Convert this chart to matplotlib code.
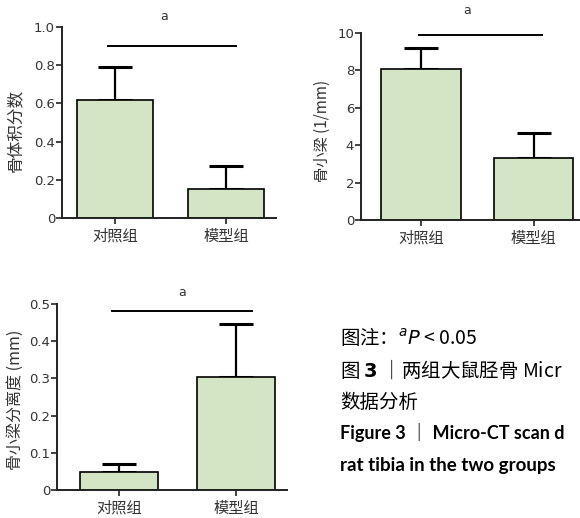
import numpy as np
import matplotlib.pyplot as plt

plt.rcParams['font.family'] = ['DejaVu Sans', 'Noto Sans CJK SC']

groups = ["对照组", "模型组"]

# 骨体积分数
bv_mean = [0.62, 0.15]
bv_err = [0.17, 0.12]
# 骨小梁 (1/mm)
tb_mean = [8.1, 3.3]
tb_err = [1.1, 1.35]
# 骨小梁分离度 (mm)
sp_mean = [0.048, 0.305]
sp_err = [0.022, 0.14]

bar_color = "#d3e5c5"
txt_color = "#333333"

W, H = 580, 518
fig = plt.figure(figsize=(W / 100, H / 100), dpi=100)


def panel(px, ylim, yticks, yticklabels, mean, err, width, xlim, sig, a_pos):
    # px = (left, right, top, bottom) in pixels
    l, r, t, b = px
    ax = fig.add_axes([l / W, 1 - b / H, (r - l) / W, (b - t) / H])
    x = np.arange(len(groups))
    ax.bar(x, mean, width=width, color=bar_color, edgecolor="black", linewidth=1.2, zorder=2)
    ax.errorbar(x, mean, yerr=[np.zeros(len(mean)), err], fmt="none", ecolor="black",
                elinewidth=1.6, capsize=12.5, capthick=2.2, zorder=1)
    ax.set_xlim(*xlim)
    ax.set_ylim(*ylim)
    ax.set_yticks(yticks)
    ax.set_yticklabels(yticklabels)
    ax.set_xticks(x)
    ax.set_xticklabels(groups, family=['Noto Sans CJK SC'])
    for s in ["top", "right"]:
        ax.spines[s].set_visible(False)
    for s in ["left", "bottom"]:
        ax.spines[s].set_linewidth(1.4)
        ax.spines[s].set_color("#222222")
    ax.tick_params(axis="both", length=4, width=1.2, colors="#222222", labelcolor=txt_color,
                   labelsize=9.5)
    ax.tick_params(axis="x", pad=3, labelsize=11)
    ax.tick_params(axis="y", pad=1)
    ax.plot(sig[:2], [sig[2], sig[2]], color="black", lw=1.4, clip_on=False)
    ax.text(a_pos[0], a_pos[1], "a", ha="center", va="center", fontsize=9, color=txt_color,
            clip_on=False)
    return ax


panel((62, 276, 27, 218), (0, 1.0), [0, 0.2, 0.4, 0.6, 0.8, 1.0],
      ["0", "0.2", "0.4", "0.6", "0.8", "1.0"], bv_mean, bv_err, 0.685,
      (-0.477, 1.45), (-0.063, 1.09, 0.9), (0.44, 1.055))

panel((361, 580, 33, 220), (0, 10), [0, 2, 4, 6, 8, 10],
      ["0", "2", "4", "6", "8", "10"], tb_mean, tb_err, 0.71,
      (-0.533, 1.413), (-0.018, 1.076, 9.9), (0.41, 11.2))

panel((57, 287, 304, 490), (0, 0.5), [0, 0.1, 0.2, 0.3, 0.4, 0.5],
      ["0", "0.1", "0.2", "0.3", "0.4", "0.5"], sp_mean, sp_err, 0.67,
      (-0.536, 1.438), (-0.064, 1.137, 0.48), (0.536, 0.53))

# y labels
fig.text(15 / W, 1 - 130 / H, "骨体积分数", rotation=90, ha="center", va="center",
         fontsize=12, color=txt_color, family=['Noto Sans CJK SC'])
fig.text(322 / W, 1 - 131 / H, "骨小梁 (1/mm)", rotation=90, ha="center", va="center",
         fontsize=11, color=txt_color, family=['Noto Sans CJK SC', 'DejaVu Sans'])
fig.text(15 / W, 1 - 400 / H, "骨小梁分离度 (mm)", rotation=90, ha="center", va="center",
         fontsize=11.5, color=txt_color, family=['Noto Sans CJK SC', 'DejaVu Sans'])

# caption (cut at the right edge as in the source page)
cap = dict(ha="left", va="center", color="black")
fig.text(340 / W, 1 - 337 / H, "图注：$^{a}$$\\it{P}$ < 0.05", fontsize=14,
         family=['Noto Sans CJK SC', 'Lato'], **cap)
fig.text(340 / W, 1 - 370 / H, "图 $\\bf{3}$ ｜两组大鼠胫骨 Micr", fontsize=14,
         family=['Noto Sans CJK SC', 'Lato'], **cap)
fig.text(340 / W, 1 - 402 / H, "数据分析", fontsize=14, family=['Noto Sans CJK SC'], **cap)
fig.text(340 / W, 1 - 433 / H, "Figure 3 ｜ Micro-CT scan d", fontsize=13,
         family=['Lato', 'Noto Sans CJK SC'], fontweight="bold", **cap)
fig.text(340 / W, 1 - 465 / H, "rat tibia in the two groups", fontsize=13.5,
         family=['Lato'], fontweight="bold", **cap)

fig.savefig("out.png", dpi=100)
